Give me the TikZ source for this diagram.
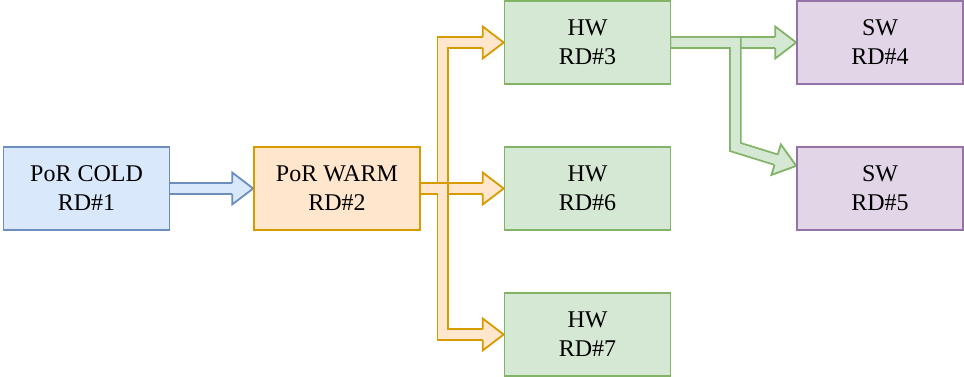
\documentclass[tikz,border=0pt]{standalone}
\usepackage{fontspec}
\setmainfont{Liberation Serif}
\usetikzlibrary{calc}

\definecolor{bluefill}{HTML}{DAE8FC}
\definecolor{bluestroke}{HTML}{6C8EBF}
\definecolor{orangefill}{HTML}{FFE6CC}
\definecolor{orangestroke}{HTML}{D79B00}
\definecolor{greenfill}{HTML}{D5E8D4}
\definecolor{greenstroke}{HTML}{82B366}
\definecolor{purplefill}{HTML}{E1D5E7}
\definecolor{purplestroke}{HTML}{9673A6}

\pgfdeclarelayer{background}
\pgfsetlayers{background,main}

\tikzset{
  box/.style={draw, line width=1.6pt, minimum width=166pt, minimum height=83pt,
    inner sep=0pt, align=center, font=\fontsize{24}{29}\selectfont},
  bluebox/.style={box, draw=bluestroke, fill=bluefill},
  orangebox/.style={box, draw=orangestroke, fill=orangefill},
  greenbox/.style={box, draw=greenstroke, fill=greenfill},
  purplebox/.style={box, draw=purplestroke, fill=purplefill},
  shaft/.style={line width=1.8pt, double distance=9pt, line join=miter},
}

% Hollow "flex" arrow: #1 colour prefix, #2 shaft path up to its last bend,
% #3 last bend, #4 tip
\newcommand\flexarrow[4]{%
  \coordinate (hb) at ($(#4)!21pt!(#3)$);
  \draw[shaft, draw=#1stroke, double=#1fill] #2 -- (hb);
  \fill[#1fill] ($(hb)!16pt!90:(#4)$) -- (#4) -- ($(hb)!16pt!-90:(#4)$) -- cycle;
  \draw[#1stroke, line width=1.8pt, line join=miter]
    ($(hb)!5.4pt!90:(#4)$) -- ($(hb)!16pt!90:(#4)$) -- (#4)
    -- ($(hb)!16pt!-90:(#4)$) -- ($(hb)!5.4pt!-90:(#4)$);
}

\begin{document}
\begin{tikzpicture}[x=1pt, y=-1pt]
\useasboundingbox (0,0) rectangle (964,377);

\node[bluebox]   (rd1) at (86.5,188.5) {PoR COLD\\RD\#1};
\node[orangebox] (rd2) at (337,188.5)  {PoR WARM\\RD\#2};
\node[greenbox]  (rd3) at (587.5,42.5) {HW\\RD\#3};
\node[greenbox]  (rd6) at (587.5,188.5){HW\\RD\#6};
\node[greenbox]  (rd7) at (587.5,334.5){HW\\RD\#7};
\node[purplebox] (rd4) at (880,42.5)   {SW\\RD\#4};
\node[purplebox] (rd5) at (880,188.5)  {SW\\RD\#5};

% bend points of the branching arrows
\coordinate (ov) at ($(rd2.east)+(22,0)$);
\coordinate (o1) at (ov |- rd3.west);
\coordinate (o3) at (ov |- rd7.west);
\coordinate (gv) at ($(rd3.east)+(64,0)$);
\coordinate (gc) at ($(gv)+(0,104.5)$);
\coordinate (gt) at ($(rd5.north west)+(0,19.7)$);

\begin{pgfonlayer}{background}
  \flexarrow{blue}{(rd1.east)}{rd1.east}{rd2.west}
  \flexarrow{orange}{(rd2.east)}{rd2.east}{rd6.west}
  \flexarrow{orange}{(rd2.east) -- (ov) -- (o1)}{o1}{rd3.west}
  \flexarrow{orange}{(rd2.east) -- (ov) -- (o3)}{o3}{rd7.west}
  \flexarrow{green}{(rd3.east)}{rd3.east}{rd4.west}
  \flexarrow{green}{(rd3.east) -- (gv) -- (gc)}{gc}{gt}
\end{pgfonlayer}
\end{tikzpicture}
\end{document}
